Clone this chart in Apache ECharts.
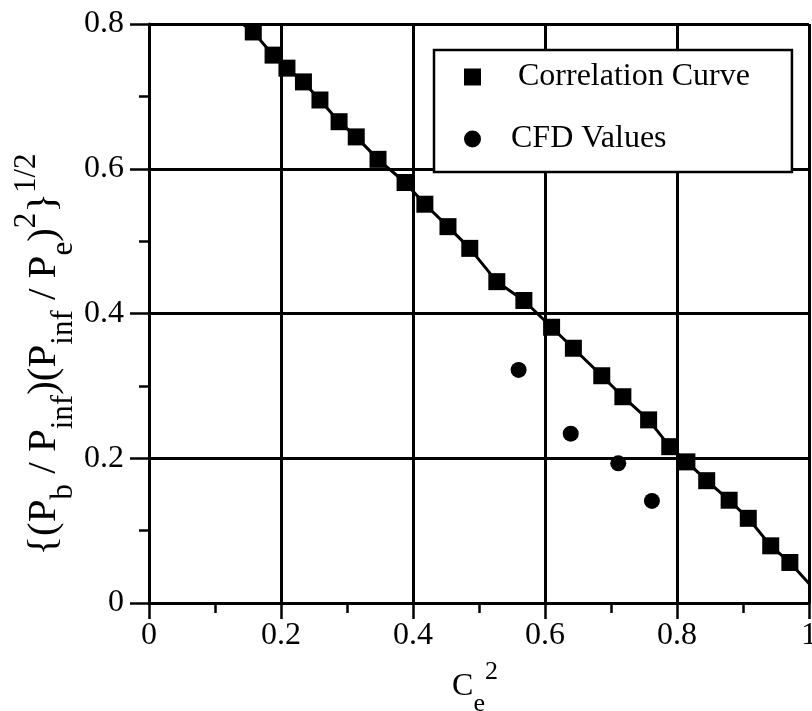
<!DOCTYPE html>
<html>
<head>
<meta charset="utf-8">
<script src="https://cdn.jsdelivr.net/npm/echarts@6/dist/echarts.min.js"></script>
<style>html,body{margin:0;padding:0;background:#fff;}#c{width:812px;height:711px;}</style>
</head>
<body>
<div id="c"></div>
<script>
// Correlation curve points (squares)
var corrX = [0.158, 0.188, 0.209, 0.234, 0.259, 0.288, 0.314, 0.347, 0.388, 0.418, 0.453, 0.486, 0.527, 0.568, 0.610, 0.643, 0.686, 0.718, 0.757, 0.789, 0.815, 0.845, 0.879, 0.908, 0.942, 0.971];
var corrY = [0.789, 0.757, 0.739, 0.720, 0.695, 0.665, 0.644, 0.613, 0.581, 0.551, 0.520, 0.490, 0.444, 0.418, 0.381, 0.352, 0.314, 0.285, 0.253, 0.216, 0.195, 0.169, 0.142, 0.117, 0.079, 0.056];
// where the curve line meets the plot edges (no marker)
var curveEndsX = [0.142, 1.0];
var curveEndsY = [0.800, 0.027];
// CFD values (circles)
var cfdX = [0.560, 0.639, 0.711, 0.762];
var cfdY = [0.322, 0.234, 0.193, 0.141];
// axis ticks
var xTicks = [0, 0.2, 0.4, 0.6, 0.8, 1];
var yTicks = [0, 0.2, 0.4, 0.6, 0.8];

var FONT = '"Liberation Serif", "Times New Roman", serif';

var curveData = [{value: [curveEndsX[0], curveEndsY[0]], symbol: 'none'}];
for (var i = 0; i < corrX.length; i++) curveData.push([corrX[i], corrY[i]]);
curveData.push({value: [curveEndsX[1], curveEndsY[1]], symbol: 'none'});

var cfdData = cfdX.map(function (x, i) { return [x, cfdY[i]]; });

var chart = echarts.init(document.getElementById('c'), null, {renderer: 'canvas'});

function fmt(v) { return v === 0 ? '0' : (v === 1 ? '1' : String(v)); }

chart.setOption({
  animation: false,
  backgroundColor: '#fff',
  textStyle: {fontFamily: FONT, color: '#000'},
  grid: {left: 149, right: 3, top: 24, bottom: 108, containLabel: false, outerBoundsMode: 'none'},
  xAxis: {
    type: 'value', min: xTicks[0], max: xTicks[xTicks.length - 1], interval: 0.2,
    name: '{m|C}{sub|e}{sup|2}',
    nameLocation: 'middle', nameGap: 54, nameMoveOverlap: false,
    nameTextStyle: {
      fontFamily: FONT, color: '#000', fontSize: 32, lineHeight: 60,
      padding: [0, 8, 0, 0],
      rich: {
        m: {fontFamily: FONT, fontSize: 32, lineHeight: 60, color: '#000'},
        sub: {fontFamily: FONT, fontSize: 26, lineHeight: 26, verticalAlign: 'bottom', color: '#000'},
        sup: {fontFamily: FONT, fontSize: 26, lineHeight: 26, verticalAlign: 'top', color: '#000', padding: [2, 0, 0, 0]}
      }
    },
    axisLine: {show: true, lineStyle: {color: '#000', width: 3}},
    axisTick: {show: true, inside: false, length: 16, lineStyle: {color: '#000', width: 2.5}},
    minorTick: {show: true, splitNumber: 2, length: 10, lineStyle: {color: '#000', width: 2.5}},
    axisLabel: {fontFamily: FONT, fontSize: 32, color: '#000', margin: 17, formatter: fmt},
    splitLine: {show: true, lineStyle: {color: '#000', width: 3}}
  },
  yAxis: {
    type: 'value', min: yTicks[0], max: yTicks[yTicks.length - 1], interval: 0.2,
    name: '{m|{(P}{sub|b}{m| / P}{sub|inf}{m|)(P}{sub|inf}{m| / P}{sub|e}{m|)}{sup|2}{m|\u007d}{sup|1/2}',
    nameLocation: 'middle', nameGap: 70, nameRotate: 90, nameMoveOverlap: false,
    nameTextStyle: {
      fontFamily: FONT, color: '#000', fontSize: 41, lineHeight: 70,
      padding: [0, 82, 0, 0],
      rich: {
        m: {fontFamily: FONT, fontSize: 41, lineHeight: 70, color: '#000'},
        sub: {fontFamily: FONT, fontSize: 31, lineHeight: 31, verticalAlign: 'bottom', color: '#000'},
        sup: {fontFamily: FONT, fontSize: 31, lineHeight: 31, verticalAlign: 'top', color: '#000', padding: [2, 0, 0, 0]}
      }
    },
    axisLine: {show: true, lineStyle: {color: '#000', width: 3}},
    axisTick: {show: true, inside: false, length: 19, lineStyle: {color: '#000', width: 2.5}},
    minorTick: {show: true, splitNumber: 2, length: 10, lineStyle: {color: '#000', width: 2.5}},
    axisLabel: {fontFamily: FONT, fontSize: 32, color: '#000', margin: 25, formatter: fmt},
    splitLine: {show: true, lineStyle: {color: '#000', width: 3}}
  },
  legend: {
    orient: 'vertical', left: 434, top: 50,
    backgroundColor: '#fff', borderColor: '#000', borderWidth: 2.5, borderRadius: 0,
    padding: [11, 42, 17, 30], itemGap: 30, itemWidth: 17, itemHeight: 17,
    selectedMode: false,
    data: [
      {name: 'Correlation Curve', icon: 'rect'},
      {name: 'CFD Values', icon: 'circle'}
    ],
    formatter: function (name) {
      return (name === 'Correlation Curve' ? '{g1|}' : '{g2|}') + '{t|' + name + '}';
    },
    textStyle: {
      fontFamily: FONT, fontSize: 32, color: '#000', lineHeight: 32,
      rich: {
        g1: {width: 32},
        g2: {width: 25},
        t: {fontFamily: FONT, fontSize: 32, color: '#000', lineHeight: 32}
      }
    }
  },
  series: [
    {
      name: 'Correlation Curve', type: 'line', data: curveData,
      symbol: 'rect', symbolSize: 17, showAllSymbol: true, clip: true,
      lineStyle: {color: '#000', width: 3},
      itemStyle: {color: '#000', opacity: 1},
      z: 3
    },
    {
      name: 'CFD Values', type: 'scatter', data: cfdData,
      symbol: 'circle', symbolSize: 16,
      itemStyle: {color: '#000', opacity: 1},
      z: 3
    }
  ]
});
</script>
</body>
</html>
